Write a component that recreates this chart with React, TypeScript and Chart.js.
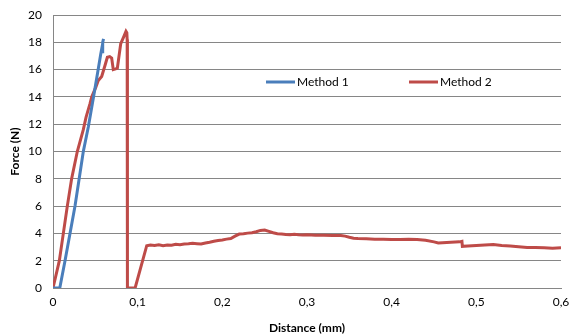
import React, { useEffect, useRef } from "react";
import { Chart, registerables } from "chart.js";

Chart.register(...registerables);

const m1Dist = [0, 0.008, 0.0142, 0.026, 0.0358, 0.0417, 0.0476, 0.0528, 0.0563, 0.0575, 0.0582, 0.0587, 0.0597];
const m1Force = [0, 0, 2.0, 6.0, 10.0, 11.8, 13.9, 15.8, 17.1, 17.5, 17.3, 18.0, 18.25];

const m2Dist = [
  0, 0.0075, 0.0122, 0.0169, 0.022, 0.0287, 0.0358, 0.039, 0.0437, 0.0457, 0.0505, 0.0535, 0.0575,
  0.0614, 0.0642, 0.067, 0.0693, 0.0712, 0.074, 0.076, 0.08, 0.0835, 0.0862, 0.0872, 0.0876, 0.0878, 0.088,
  0.097, 0.1107, 0.115, 0.12, 0.125, 0.13, 0.135, 0.14, 0.145, 0.15, 0.155, 0.16, 0.165, 0.17, 0.175,
  0.18, 0.185, 0.19, 0.195, 0.2, 0.205, 0.21, 0.215, 0.22, 0.225, 0.23, 0.235, 0.24, 0.245, 0.25, 0.255,
  0.26, 0.265, 0.27, 0.275, 0.28, 0.285, 0.29, 0.295, 0.3, 0.31, 0.32, 0.33, 0.34, 0.345, 0.35, 0.355,
  0.36, 0.37, 0.38, 0.39, 0.4, 0.41, 0.42, 0.43, 0.44, 0.45, 0.455, 0.46, 0.47, 0.48, 0.483, 0.4835, 0.49,
  0.5, 0.51, 0.52, 0.53, 0.54, 0.55, 0.56, 0.57, 0.58, 0.59, 0.6,
];
const m2Force = [
  0, 2.0, 4.0, 6.0, 8.0, 10.0, 11.6, 12.5, 13.5, 14.0, 14.7, 15.2, 15.5,
  16.3, 16.9, 16.95, 16.85, 16.0, 16.05, 16.1, 17.9, 18.4, 18.8, 18.7, 18.2, 10.0, 0,
  0, 3.1, 3.15, 3.12, 3.16, 3.1, 3.15, 3.13, 3.2, 3.17, 3.22, 3.24, 3.27, 3.25, 3.22,
  3.3, 3.35, 3.42, 3.48, 3.52, 3.58, 3.62, 3.8, 3.95, 3.97, 4.02, 4.05, 4.12, 4.22, 4.25, 4.15,
  4.05, 3.98, 3.95, 3.92, 3.9, 3.93, 3.9, 3.88, 3.9, 3.87, 3.86, 3.84, 3.85, 3.8, 3.72, 3.65,
  3.62, 3.6, 3.57, 3.58, 3.56, 3.55, 3.57, 3.55, 3.5, 3.38, 3.3, 3.32, 3.35, 3.38, 3.42, 3.05, 3.08,
  3.12, 3.15, 3.18, 3.12, 3.08, 3.02, 2.96, 2.97, 2.95, 2.92, 2.95,
];

const xTicks = [0, 0.1, 0.2, 0.3, 0.4, 0.5, 0.6];
const xTickLabels = ["0", "0,1", "0,2", "0,3", "0,4", "0,5", "0,6"];
const seriesNames = ["Method 1", "Method 2"];
const seriesColors = ["#4A7EBB", "#BE4B48"];

const FONT = "Lato, 'Open Sans', sans-serif";

const legendPlugin = {
  id: "insideLegend",
  afterDraw(chart: any) {
    const ctx = chart.ctx;
    ctx.save();
    ctx.font = `12px ${FONT}`;
    ctx.textBaseline = "middle";
    ctx.textAlign = "left";
    const y = 82;
    const starts = [266, 409];
    seriesNames.forEach((name, i) => {
      ctx.strokeStyle = seriesColors[i];
      ctx.lineWidth = 3;
      ctx.beginPath();
      ctx.moveTo(starts[i], y);
      ctx.lineTo(starts[i] + 29, y);
      ctx.stroke();
      ctx.fillStyle = "#000";
      ctx.fillText(name, starts[i] + 31, y);
    });
    ctx.restore();
  },
};

export default function App() {
  const ref = useRef<HTMLCanvasElement>(null);
  useEffect(() => {
    if (!ref.current) return;
    const chart = new Chart(ref.current, {
      type: "line",
      data: {
        datasets: [
          {
            label: seriesNames[0],
            data: m1Dist.map((x, i) => ({ x, y: m1Force[i] })),
            borderColor: seriesColors[0],
            borderWidth: 3,
            pointRadius: 0,
            tension: 0,
          },
          {
            label: seriesNames[1],
            data: m2Dist.map((x, i) => ({ x, y: m2Force[i] })),
            borderColor: seriesColors[1],
            borderWidth: 3,
            pointRadius: 0,
            tension: 0,
          },
        ],
      },
      options: {
        animation: false,
        responsive: true,
        maintainAspectRatio: false,
        layout: { padding: { top: 15, right: 10, left: 0, bottom: 0 } },
        plugins: { legend: { display: false }, tooltip: { enabled: false } },
        scales: {
          x: {
            type: "linear",
            min: 0,
            max: 0.6,
            afterBuildTicks: (scale: any) => {
              scale.ticks = xTicks.map((v) => ({ value: v }));
            },
            afterFit: (scale: any) => {
              scale.height = 47;
              scale.paddingLeft = 0;
              scale.paddingRight = 0;
            },
            ticks: {
              callback: (v: any) => {
                const idx = xTicks.findIndex((t) => Math.abs(t - v) < 1e-9);
                return idx >= 0 ? xTickLabels[idx] : "";
              },
              color: "#000",
              font: { family: FONT, size: 12 },
              maxRotation: 0,
              padding: 7,
            },
            grid: { display: false, drawTicks: false },
            border: { display: true, color: "#868686", width: 1 },
            title: {
              display: true,
              text: "Distance (mm)",
              color: "#000",
              font: { family: FONT, size: 12, weight: "bold" },
              padding: { top: 6, bottom: 0 },
            },
          },
          y: {
            min: 0,
            max: 20,
            ticks: {
              stepSize: 2,
              color: "#000",
              font: { family: FONT, size: 12 },
              padding: 11,
            },
            afterFit: (scale: any) => {
              scale.width = 53;
              scale.paddingTop = 0;
              scale.paddingBottom = 0;
            },
            grid: { color: "#868686", lineWidth: 1, drawTicks: false },
            border: { display: true, color: "#868686", width: 1 },
            title: {
              display: true,
              text: "Force (N)",
              color: "#000",
              font: { family: FONT, size: 12, weight: "bold" },
              padding: { top: 8, bottom: 4 },
            },
          },
        },
      },
      plugins: [legendPlugin],
    } as any);
    return () => chart.destroy();
  }, []);
  return (
    <div style={{ position: "absolute", left: 0, top: 0, width: 571, height: 335, background: "#fff" }}>
      <canvas ref={ref} />
    </div>
  );
}
